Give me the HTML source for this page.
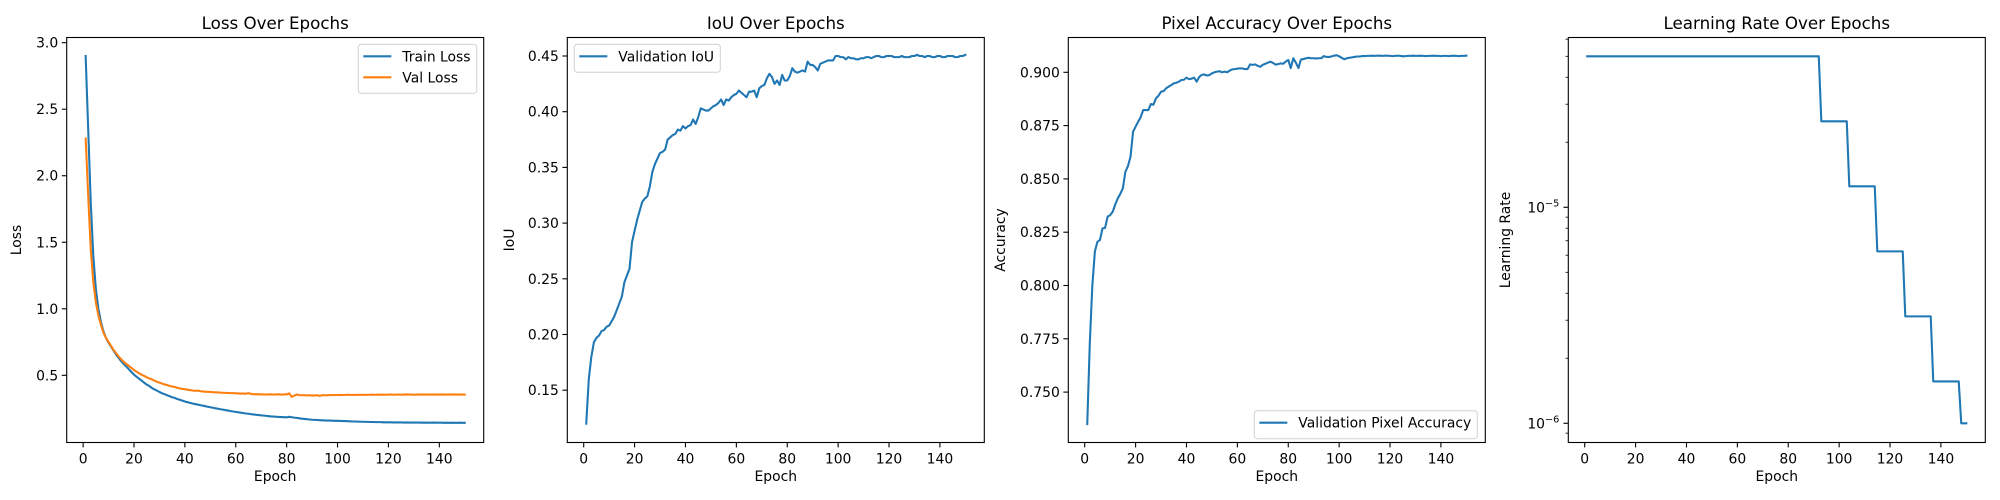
<!DOCTYPE html>
<html><head><meta charset="utf-8"><style>
html,body{margin:0;padding:0;background:#fff;}
svg{display:block;font-family:"DejaVu Sans","Liberation Sans",sans-serif;}
</style></head><body>
<svg id="fig" width="2000" height="500" viewBox="0 0 2000 500" xmlns="http://www.w3.org/2000/svg"></svg>
<script>
const epochs = [];
for (let e = 1; e <= 150; e++) epochs.push(e);
const xTicks = [0,20,40,60,80,100,120,140];

const trainLoss = [2.90,2.35,1.80,1.40,1.15,1.00,0.90,0.83,0.78,0.745,
0.715,0.685,0.655,0.63,0.605,0.585,0.565,0.545,0.525,0.505,
0.49,0.475,0.46,0.445,0.43,0.42,0.405,0.395,0.385,0.375,
0.365,0.358,0.35,0.343,0.335,0.33,0.322,0.316,0.31,0.303,
0.298,0.293,0.288,0.284,0.28,0.276,0.272,0.268,0.264,0.26,
0.256,0.252,0.249,0.245,0.242,0.238,0.235,0.231,0.228,0.225,
0.222,0.219,0.216,0.213,0.211,0.208,0.206,0.203,0.201,0.199,
0.197,0.195,0.193,0.191,0.19,0.188,0.187,0.186,0.185,0.184,
0.188,0.185,0.182,0.18,0.177,0.174,0.172,0.17,0.168,0.166,
0.165,0.164,0.163,0.162,0.161,0.160,0.160,0.159,0.158,0.158,
0.157,0.156,0.156,0.155,0.154,0.153,0.153,0.152,0.151,0.151,
0.150,0.150,0.149,0.149,0.148,0.148,0.148,0.147,0.147,0.147,
0.147,0.146,0.146,0.146,0.146,0.145,0.146,0.145,0.145,0.145,
0.145,0.145,0.144,0.145,0.144,0.144,0.144,0.145,0.144,0.144,
0.144,0.143,0.144,0.143,0.144,0.143,0.143,0.144,0.143,0.143];

const valLoss = [2.28,1.85,1.45,1.20,1.05,0.95,0.88,0.82,0.78,0.75,
0.72,0.69,0.665,0.64,0.62,0.60,0.585,0.57,0.555,0.54,
0.528,0.515,0.505,0.495,0.485,0.476,0.47,0.46,0.452,0.445,
0.438,0.432,0.427,0.42,0.416,0.412,0.406,0.402,0.398,0.395,
0.392,0.389,0.386,0.384,0.385,0.381,0.379,0.377,0.376,0.375,
0.373,0.372,0.371,0.37,0.369,0.368,0.367,0.366,0.366,0.365,
0.364,0.363,0.363,0.362,0.366,0.36,0.358,0.357,0.358,0.356,
0.357,0.355,0.356,0.357,0.355,0.356,0.357,0.355,0.356,0.357,
0.364,0.338,0.347,0.356,0.351,0.350,0.351,0.349,0.350,0.348,
0.349,0.350,0.345,0.351,0.350,0.350,0.352,0.351,0.352,0.352,
0.353,0.352,0.353,0.354,0.353,0.352,0.354,0.353,0.354,0.353,
0.354,0.353,0.355,0.354,0.354,0.355,0.354,0.355,0.354,0.355,
0.355,0.354,0.355,0.355,0.354,0.355,0.356,0.355,0.355,0.354,
0.355,0.356,0.355,0.355,0.356,0.355,0.355,0.356,0.355,0.355,
0.356,0.355,0.355,0.356,0.355,0.356,0.355,0.355,0.356,0.355];

const valIoU = [0.120,0.160,0.180,0.193,0.197,0.199,0.203,0.204,0.207,0.208,
0.212,0.216,0.222,0.228,0.234,0.247,0.253,0.259,0.283,0.293,
0.303,0.311,0.319,0.322,0.324,0.333,0.346,0.353,0.358,0.363,
0.364,0.366,0.375,0.377,0.379,0.380,0.384,0.383,0.387,0.385,
0.387,0.388,0.393,0.389,0.395,0.403,0.402,0.401,0.401,0.403,
0.405,0.406,0.408,0.411,0.406,0.411,0.410,0.413,0.415,0.416,
0.419,0.417,0.415,0.413,0.418,0.418,0.419,0.413,0.421,0.423,
0.424,0.430,0.434,0.431,0.425,0.428,0.424,0.433,0.428,0.428,
0.432,0.439,0.436,0.435,0.436,0.437,0.436,0.445,0.442,0.442,
0.440,0.437,0.443,0.444,0.445,0.446,0.446,0.446,0.450,0.450,
0.449,0.449,0.447,0.449,0.448,0.448,0.447,0.447,0.448,0.448,
0.449,0.449,0.448,0.449,0.450,0.450,0.449,0.449,0.450,0.450,
0.450,0.449,0.449,0.449,0.450,0.449,0.449,0.449,0.450,0.450,
0.451,0.450,0.450,0.449,0.450,0.450,0.449,0.449,0.450,0.450,
0.449,0.449,0.450,0.450,0.450,0.449,0.449,0.450,0.450,0.451];

const valAcc = [0.735,0.773,0.800,0.816,0.8205,0.8214,0.8268,0.827,0.8323,0.833,
0.8346,0.838,0.8409,0.843,0.8456,0.8534,0.856,0.8604,0.8721,0.8745,
0.8768,0.879,0.8823,0.8823,0.8823,0.8851,0.8848,0.8878,0.889,0.8909,
0.8912,0.8925,0.8933,0.894,0.8948,0.8951,0.8956,0.8964,0.8965,0.8975,
0.8968,0.897,0.8975,0.8956,0.8978,0.8988,0.899,0.8985,0.8987,0.8995,
0.900,0.9003,0.9005,0.900,0.9003,0.900,0.9008,0.9014,0.9015,0.9017,
0.9019,0.9018,0.9015,0.9015,0.9037,0.9035,0.9037,0.903,0.9026,0.9035,
0.904,0.9045,0.905,0.9044,0.9036,0.9038,0.9042,0.904,0.905,0.9058,
0.902,0.9066,0.9045,0.902,0.906,0.9062,0.9066,0.9068,0.9066,0.9066,
0.9065,0.9066,0.9066,0.9076,0.9072,0.9072,0.9074,0.9078,0.908,0.9075,
0.9068,0.9061,0.9066,0.9068,0.907,0.9072,0.9074,0.9074,0.9076,0.9076,
0.9077,0.9077,0.9078,0.9077,0.9078,0.9078,0.9077,0.9078,0.9078,0.9077,
0.9076,0.9077,0.9078,0.9077,0.9075,0.9076,0.9077,0.9077,0.9078,0.9077,
0.9077,0.9078,0.9077,0.9076,0.9077,0.9077,0.9078,0.9077,0.9077,0.9076,
0.9077,0.9077,0.9076,0.9077,0.9078,0.9077,0.9076,0.9077,0.9077,0.9078];

const learningRate = [5e-5,5e-5,5e-5,5e-5,5e-5,5e-5,5e-5,5e-5,5e-5,5e-5,
5e-5,5e-5,5e-5,5e-5,5e-5,5e-5,5e-5,5e-5,5e-5,5e-5,
5e-5,5e-5,5e-5,5e-5,5e-5,5e-5,5e-5,5e-5,5e-5,5e-5,
5e-5,5e-5,5e-5,5e-5,5e-5,5e-5,5e-5,5e-5,5e-5,5e-5,
5e-5,5e-5,5e-5,5e-5,5e-5,5e-5,5e-5,5e-5,5e-5,5e-5,
5e-5,5e-5,5e-5,5e-5,5e-5,5e-5,5e-5,5e-5,5e-5,5e-5,
5e-5,5e-5,5e-5,5e-5,5e-5,5e-5,5e-5,5e-5,5e-5,5e-5,
5e-5,5e-5,5e-5,5e-5,5e-5,5e-5,5e-5,5e-5,5e-5,5e-5,
5e-5,5e-5,5e-5,5e-5,5e-5,5e-5,5e-5,5e-5,5e-5,5e-5,
5e-5,5e-5,2.5e-5,2.5e-5,2.5e-5,2.5e-5,2.5e-5,2.5e-5,2.5e-5,2.5e-5,
2.5e-5,2.5e-5,2.5e-5,1.25e-5,1.25e-5,1.25e-5,1.25e-5,1.25e-5,1.25e-5,1.25e-5,
1.25e-5,1.25e-5,1.25e-5,1.25e-5,6.25e-6,6.25e-6,6.25e-6,6.25e-6,6.25e-6,6.25e-6,
6.25e-6,6.25e-6,6.25e-6,6.25e-6,6.25e-6,3.125e-6,3.125e-6,3.125e-6,3.125e-6,3.125e-6,
3.125e-6,3.125e-6,3.125e-6,3.125e-6,3.125e-6,3.125e-6,1.5625e-6,1.5625e-6,1.5625e-6,1.5625e-6,
1.5625e-6,1.5625e-6,1.5625e-6,1.5625e-6,1.5625e-6,1.5625e-6,1.5625e-6,1e-6,1e-6,1e-6];

const lossTicks = [0.5,1.0,1.5,2.0,2.5,3.0];
const lossTickLabels = ["0.5","1.0","1.5","2.0","2.5","3.0"];
const iouTicks = [0.15,0.20,0.25,0.30,0.35,0.40,0.45];
const iouTickLabels = ["0.15","0.20","0.25","0.30","0.35","0.40","0.45"];
const accTicks = [0.750,0.775,0.800,0.825,0.850,0.875,0.900];
const accTickLabels = ["0.750","0.775","0.800","0.825","0.850","0.875","0.900"];

const NS = "http://www.w3.org/2000/svg";
const svg = document.getElementById('fig');
const TOP = 37.5, BOT = 442.5, W = 417;
const XMIN = -6.45, XMAX = 157.45;
const BLUE = "#1f77b4", ORANGE = "#ff7f0e";

function mk(tag, attrs, parent) {
  const el = document.createElementNS(NS, tag);
  for (const k in attrs) el.setAttribute(k, attrs[k]);
  (parent || svg).appendChild(el);
  return el;
}

function makeAxes(left, ymin, ymax, isLog) {
  const xs = v => left + (v - XMIN) / (XMAX - XMIN) * W;
  const ys = isLog
    ? v => BOT - (Math.log10(v) - ymin) / (ymax - ymin) * (BOT - TOP)
    : v => BOT - (v - ymin) / (ymax - ymin) * (BOT - TOP);
  return {left, xs, ys};
}

function drawFrameAndX(ax, name, title, ylabel, ylabelX) {
  const g = mk('g', {});
  
  
  const t = mk('text', {x: ax.left + W/2, y: 29, 'text-anchor': 'middle', 'font-size': '16.7'}, g);
  t.textContent = title;
  
  
  xTicks.forEach(v => {
    const x = ax.xs(v);
    const tk = mk('line', {x1: x, x2: x, y1: BOT, y2: BOT + 4.9, stroke: '#000', 'stroke-width': 1.1}, g);
    
    
    const lb = mk('text', {x: x, y: BOT + 21, 'text-anchor': 'middle', 'font-size': '13.9'}, g);
    lb.textContent = String(v);
    
    
  });
  const xl = mk('text', {x: ax.left + W/2, y: 481, 'text-anchor': 'middle', 'font-size': '13.9'}, g);
  xl.textContent = 'Epoch';
  
  
  const yl = mk('text', {x: ylabelX, y: (TOP+BOT)/2, 'text-anchor': 'middle', 'font-size': '13.9', transform: `rotate(-90 ${ylabelX} ${(TOP+BOT)/2})`}, g);
  yl.textContent = ylabel;
  
  
  return g;
}

function drawYTicks(ax, g, ticks, labels) {
  ticks.forEach((v, i) => {
    const y = ax.ys(v);
    const tk = mk('line', {x1: ax.left - 4.9, x2: ax.left, y1: y, y2: y, stroke: '#000', 'stroke-width': 1.1}, g);
    
    
    const lb = mk('text', {x: ax.left - 8.5, y: y + 5, 'text-anchor': 'end', 'font-size': '13.9'}, g);
    lb.textContent = labels[i];
    
    
  });
}

function drawLine(ax, g, vals, color, name) {
  const d = vals.map((v, i) => (i ? 'L' : 'M') + ax.xs(epochs[i]).toFixed(2) + ' ' + ax.ys(v).toFixed(2)).join(' ');
  const p = mk('path', {d: d, fill: 'none', stroke: color, 'stroke-width': 2.08, 'stroke-linejoin': 'round', 'stroke-linecap': 'square'}, g);
  
  
}

function drawBorder(ax, g) {
  const r = mk('rect', {x: ax.left, y: TOP, width: W, height: BOT - TOP, fill: 'none', stroke: '#000', 'stroke-width': 1.1}, g);
  
  
}

function drawLegend(g, x, y, w, entries) {
  const h = 10 + entries.length * 21;
  const box = mk('rect', {x: x, y: y, width: w, height: h - 3, rx: 3, fill: '#fff', 'fill-opacity': 0.8, stroke: '#d0d0d0', 'stroke-width': 1}, g);
  
  
  entries.forEach((en, i) => {
    const cy = y + 12 + i * 21;
    const ln = mk('line', {x1: x + 5, x2: x + 33, y1: cy, y2: cy, stroke: en[1], 'stroke-width': 2.08}, g);
    
    
    const tx = mk('text', {x: x + 44, y: cy + 5, 'font-size': '13.9'}, g);
    tx.textContent = en[0];
    
    
  });
}

// Panel 1: Loss
const ax1 = makeAxes(66.7, -0.005, 3.039, false);
const g1 = drawFrameAndX(ax1, 'loss-chart', 'Loss Over Epochs', 'Loss', 21);
drawYTicks(ax1, g1, lossTicks, lossTickLabels);
drawLine(ax1, g1, trainLoss, BLUE, 'train-loss-line');
drawLine(ax1, g1, valLoss, ORANGE, 'val-loss-line');
drawBorder(ax1, g1);
drawLegend(g1, 358.3, 44.3, 118.5, [['Train Loss', BLUE], ['Val Loss', ORANGE]]);

// Panel 2: IoU
const ax2 = makeAxes(567.3, 0.45 - 386.5/1114, 0.45 + 18.5/1114, false);
const g2 = drawFrameAndX(ax2, 'iou-chart', 'IoU Over Epochs', 'IoU', 514);
drawYTicks(ax2, g2, iouTicks, iouTickLabels);
drawLine(ax2, g2, valIoU, BLUE, 'validation-iou-line');
drawBorder(ax2, g2);
drawLegend(g2, 574.3, 44.3, 146, [['Validation IoU', BLUE]]);

// Panel 3: Accuracy
const ax3 = makeAxes(1068.3, 0.9 - 370.2/2132, 0.9 + 34.8/2132, false);
const g3 = drawFrameAndX(ax3, 'pixel-accuracy-chart', 'Pixel Accuracy Over Epochs', 'Accuracy', 1005);
drawYTicks(ax3, g3, accTicks, accTickLabels);
drawLine(ax3, g3, valAcc, BLUE, 'validation-pixel-accuracy-line');
drawBorder(ax3, g3);
drawLegend(g3, 1254.3, 410.7, 223, [['Validation Pixel Accuracy', BLUE]]);

// Panel 4: Learning rate (log)
const ax4 = makeAxes(1568.3, -6.089, -4.214, true);
const g4 = drawFrameAndX(ax4, 'learning-rate-chart', 'Learning Rate Over Epochs', 'Learning Rate', 1510);
const lrMajor = [1e-6, 1e-5];
const lrMajorExp = ["\u22126", "\u22125"];
const lrMinor = [9e-7,2e-6,3e-6,4e-6,5e-6,6e-6,7e-6,8e-6,9e-6,2e-5,3e-5,4e-5,5e-5,6e-5];
lrMajor.forEach((v, i) => {
  const y = ax4.ys(v);
  const tk = mk('line', {x1: ax4.left - 4.9, x2: ax4.left, y1: y, y2: y, stroke: '#000', 'stroke-width': 1.1}, g4);
  
  
  const lb = mk('text', {x: ax4.left - 9, y: y + 5, 'text-anchor': 'end', 'font-size': '13.9'}, g4);
  
  
  const base = mk('tspan', {}, lb);
  base.textContent = '10';
  const sup = mk('tspan', {dy: -6, 'font-size': '9.7'}, lb);
  sup.textContent = lrMajorExp[i];
});
lrMinor.forEach(v => {
  const y = ax4.ys(v);
  const tk = mk('line', {x1: ax4.left - 2.8, x2: ax4.left, y1: y, y2: y, stroke: '#000', 'stroke-width': 0.8}, g4);
  
  
});
drawLine(ax4, g4, learningRate, BLUE, 'learning-rate-line');
drawBorder(ax4, g4);
</script>
</body></html>
